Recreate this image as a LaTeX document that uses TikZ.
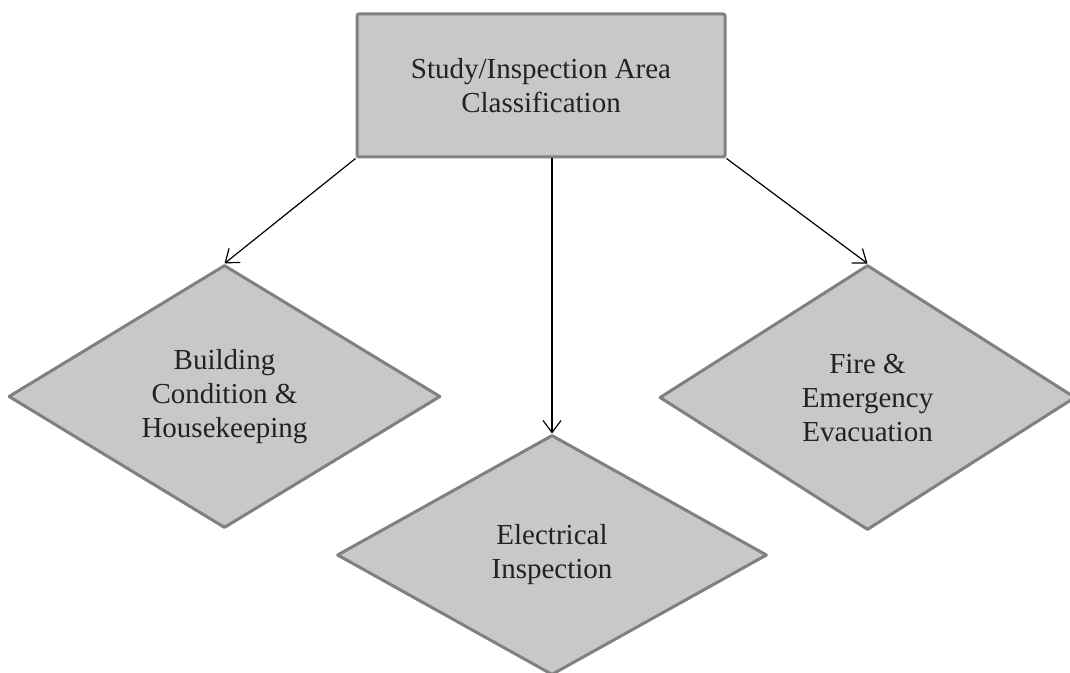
\documentclass[tikz,border=0pt]{standalone}
\usepackage{fontspec}
\setmainfont{Liberation Serif}
\usetikzlibrary{arrows.meta,positioning,shapes.geometric}
\definecolor{boxfill}{RGB}{200,200,200}
\definecolor{boxline}{RGB}{128,128,128}
\definecolor{inktext}{RGB}{34,34,34}

\begin{document}
\begin{tikzpicture}[
    x=0.5pt, y=-0.5pt,
    rootbox/.style={draw=boxline, fill=boxfill, line width=1.5pt, rounded corners=1pt, align=center, minimum width=184pt, minimum height=71.5pt, text=inktext, font=\fontsize{14.5pt}{17pt}\selectfont},
    topic/.style={diamond, draw=boxline, fill=boxfill, line width=1.5pt, line join=round, inner sep=0pt, align=center, minimum width=216pt, minimum height=131.5pt, text=inktext, font=\fontsize{14.5pt}{17pt}\selectfont},
    link/.style={-{Straight Barb[length=6pt, width=9pt]}, line width=0.6pt}
  ]
    \useasboundingbox (0,0) rectangle (1070,673);
    \node[rootbox] (root) at (541,85.5) {Study/Inspection Area\\Classification};
    \node[topic, below=52.5pt of root.south west, xshift=-65.5pt] (bldg) {Building\\Condition \&\\Housekeeping};
    \node[topic, below=137.5pt of root, xshift=5.5pt, minimum width=215pt, minimum height=120pt] (elec) {Electrical\\Inspection};
    \node[topic, below=52.5pt of root.south east, xshift=70.5pt, minimum width=208pt, minimum height=132.5pt] (fire) {Fire \&\\Emergency\\Evacuation};
    \draw[link] (root.south west) -- (bldg.north);
    \draw[link] ([xshift=5.5pt]root.south) -- (elec.north);
    \draw[link] (root.south east) -- (fire.north);
  \end{tikzpicture}
\end{document}
